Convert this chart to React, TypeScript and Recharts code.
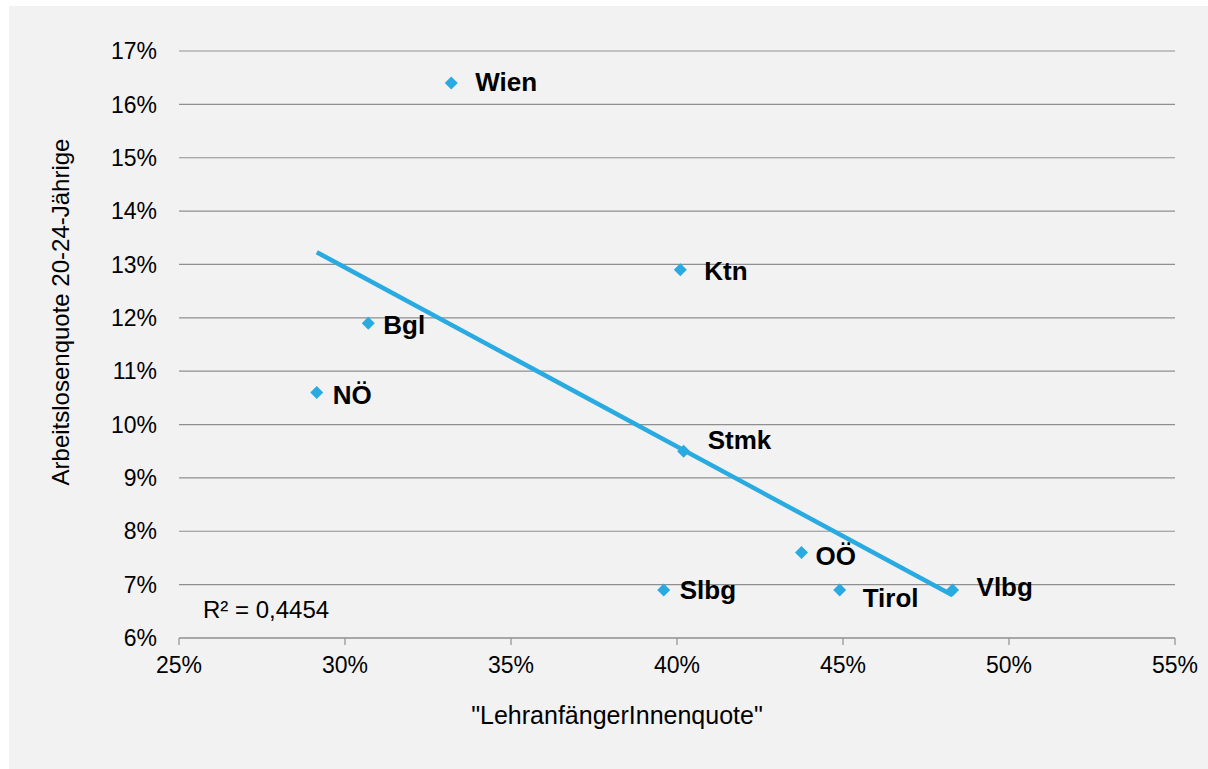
import { ScatterChart, Scatter, XAxis, YAxis, CartesianGrid, Label } from 'recharts'

// Bundesländer: LehranfängerInnenquote vs. Arbeitslosenquote 20-24-Jährige (in %)
const REGIONS = ['Wien', 'Ktn', 'Bgl', 'NÖ', 'Stmk', 'OÖ', 'Slbg', 'Tirol', 'Vlbg']
const LEHR_QUOTE = [33.2, 40.1, 30.7, 29.15, 40.2, 43.75, 39.6, 44.9, 48.3]
const ALQ_20_24 = [16.4, 12.9, 11.9, 10.6, 9.5, 7.6, 6.9, 6.9, 6.9]

// linear trend line, end points
const TREND_X = [29.15, 48.3]
const TREND_Y = [13.23, 6.8]
const R_SQUARED = '0,4454'

const X_TICKS = [25, 30, 35, 40, 45, 50, 55]
const Y_TICKS = [6, 7, 8, 9, 10, 11, 12, 13, 14, 15, 16, 17]

const BLUE = '#29abe2'
const GRID = '#8f8f8f'
const FONT = '"Liberation Sans", Arial, sans-serif'

// where each region name sits relative to its marker
const LABEL_OFFSET: Record<string, [number, number]> = {
  Wien: [24, 8],
  Ktn: [24, 10],
  Bgl: [15, 11],
  'NÖ': [16, 11],
  Stmk: [24, -2],
  'OÖ': [14, 12],
  Slbg: [16, 9],
  Tirol: [23, 17],
  Vlbg: [24, 6],
}

const points = REGIONS.map((name, i) => ({ name, x: LEHR_QUOTE[i], y: ALQ_20_24[i] }))
const trend = TREND_X.map((x, i) => ({ x, y: TREND_Y[i] }))

const Diamond = (props: any) => {
  const { cx, cy, payload } = props
  const r = 6.5
  const [dx, dy] = LABEL_OFFSET[payload.name] ?? [20, 8]
  return (
    <g>
      <polygon
        points={`${cx},${cy - r} ${cx + r},${cy} ${cx},${cy + r} ${cx - r},${cy}`}
        fill={BLUE}
      />
      <text x={cx + dx} y={cy + dy} fontSize={26} fontWeight="bold" fill="#000" fontFamily={FONT}>
        {payload.name}
      </text>
    </g>
  )
}

export default function App() {
  return (
    <div style={{ position: 'absolute', left: 9, top: 6, width: 1199, height: 763, background: '#f2f2f2' }}>
      <ScatterChart width={1199} height={763} margin={{ top: 45, right: 33, bottom: 0, left: 0 }}>
        <CartesianGrid vertical={false} stroke={GRID} strokeWidth={1.2} />
        <XAxis
          type="number"
          dataKey="x"
          domain={[25, 55]}
          ticks={X_TICKS}
          height={131}
          tickFormatter={(v: number) => `${v}%`}
          axisLine={{ stroke: GRID, strokeWidth: 1.2 }}
          tickLine={{ stroke: GRID, strokeWidth: 1.2 }}
          tickSize={7}
          tickMargin={12}
          tick={{ fill: '#000', fontSize: 23, fontFamily: FONT }}
          interval={0}
        >
          <Label
            content={() => (
              <text x={608} y={718} textAnchor="middle" fontSize={25} fill="#000" fontFamily={FONT}>
                "LehranfängerInnenquote"
              </text>
            )}
          />
        </XAxis>
        <YAxis
          type="number"
          dataKey="y"
          domain={[6, 17]}
          ticks={Y_TICKS}
          width={170}
          tickFormatter={(v: number) => `${v}%`}
          axisLine={false}
          tickLine={false}
          tickSize={0}
          tickMargin={22}
          tick={{ fill: '#000', fontSize: 23, fontFamily: FONT }}
          interval={0}
        >
          <Label
            content={() => (
              <g>
                <text
                  x={51}
                  y={306}
                  transform="rotate(-90 51 306)"
                  textAnchor="middle"
                  dominantBaseline="central"
                  fontSize={24}
                  fill="#000"
                  fontFamily={FONT}
                >
                  Arbeitslosenquote 20-24-Jährige
                </text>
                <text x={194} y={612} fontSize={24} fill="#000" fontFamily={FONT}>
                  R² = {R_SQUARED}
                </text>
              </g>
            )}
          />
        </YAxis>
        <Scatter data={points} shape={Diamond} isAnimationActive={false} />
        <Scatter
          data={trend}
          line={{ stroke: BLUE, strokeWidth: 4.5 }}
          lineType="joint"
          shape={() => <g />}
          isAnimationActive={false}
        />
      </ScatterChart>
    </div>
  )
}
